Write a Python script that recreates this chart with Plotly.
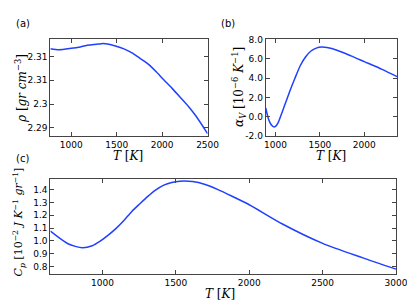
import plotly.graph_objects as go

# Panel (a): density
T_a = [771, 866, 1000, 1100, 1200, 1300, 1350, 1400, 1486, 1580, 1664, 1750, 1840, 1930, 2018, 2110, 2196, 2290, 2372, 2500]
rho = [2.3116, 2.3114, 2.3117, 2.3120, 2.3124, 2.3126, 2.3127, 2.3126, 2.3122, 2.3116, 2.3108, 2.3097, 2.3085, 2.3069, 2.3051, 2.3033, 2.3015, 2.2995, 2.2975, 2.2938]

# Panel (b): thermal expansion coefficient
T_b = [890, 920, 950, 980, 1000, 1030, 1060, 1100, 1160, 1220, 1280, 1340, 1400, 1460, 1520, 1580, 1700, 1850, 2000, 2200, 2370]
alpha = [0.9, -0.2, -0.8, -1.05, -1.0, -0.6, 0.1, 1.1, 2.6, 4.0, 5.3, 6.2, 6.8, 7.1, 7.2, 7.15, 6.85, 6.3, 5.7, 4.9, 4.15]

# Panel (c): heat capacity
T_c = [645, 765, 863, 930, 982, 1037, 1091, 1146, 1200, 1255, 1309, 1364, 1418, 1472, 1527, 1614, 1700, 1787, 1880, 2000, 2226, 2500, 2774, 3000]
cp = [1.076, 0.978, 0.946, 0.962, 0.996, 1.043, 1.096, 1.159, 1.230, 1.290, 1.347, 1.398, 1.435, 1.456, 1.466, 1.463, 1.440, 1.400, 1.350, 1.282, 1.132, 0.981, 0.868, 0.780]

line = dict(color="#2040ff", width=1.5, shape="spline", smoothing=0.7)
fig = go.Figure()
fig.add_trace(go.Scatter(x=T_a, y=rho, mode="lines", line=line, xaxis="x", yaxis="y"))
fig.add_trace(go.Scatter(x=T_b, y=alpha, mode="lines", line=line, xaxis="x2", yaxis="y2"))
fig.add_trace(go.Scatter(x=T_c, y=cp, mode="lines", line=line, xaxis="x3", yaxis="y3"))

tickfont = dict(family="DejaVu Sans", size=9, color="black")
ax_common = dict(showline=True, linecolor="#444", linewidth=1, mirror="ticks",
                 ticks="inside", ticklen=4, tickcolor="#444", showgrid=False,
                 zeroline=False, tickfont=tickfont)

fig.update_layout(
    width=415, height=300,
    margin=dict(l=0, r=0, t=0, b=0),
    paper_bgcolor="white", plot_bgcolor="white",
    showlegend=False,
    xaxis=dict(domain=[0.1029, 0.494], range=[771, 2500], tickvals=[1000, 1500, 2000, 2500],
               ticktext=["1000", "1500", "2000", "2500"], anchor="y", **ax_common),
    yaxis=dict(domain=[0.5757, 0.911], range=[2.2933, 2.3137], anchor="x",
               tickvals=[2.295, 2.300, 2.305, 2.310], ticktext=["2.29", "2.3", "2.31", "2.31"], **ax_common),
    xaxis2=dict(domain=[0.6386, 0.9655], range=[890, 2370], tickvals=[1000, 1500, 2000], anchor="y2", **ax_common),
    yaxis2=dict(domain=[0.5757, 0.909], range=[-2, 8], anchor="x2",
                tickvals=[-2, 0, 2, 4, 6, 8], ticktext=["-2.0", "0.0", "2.0", "4.0", "6.0", "8.0"], **ax_common),
    xaxis3=dict(domain=[0.1029, 0.9627], range=[645, 3000], tickvals=[1000, 1500, 2000, 2500, 3000], anchor="y3", **ax_common),
    yaxis3=dict(domain=[0.1, 0.4277], range=[0.742, 1.483], anchor="x3",
                tickvals=[0.8, 0.9, 1.0, 1.1, 1.2, 1.3, 1.4],
                ticktext=["0.8", "0.9", "1.0", "1.1", "1.2", "1.3", "1.4"], **ax_common),
)

T_title = "<i>T</i> [<i>K</i>]"
titles = [
    (T_title, 123, 148, 0, 12),
    (T_title, 332, 148, 0, 12),
    (T_title, 218, 291, 0, 12),
    ("<i>ρ</i> [<i>gr cm</i><sup>−3</sup>]", 13, 78, -90, 12),
    ("<i>α<sub>V</sub></i> [10<sup>−6</sup> <i>K</i><sup>−1</sup>]", 238, 77, -90, 12),
    ("<i>C<sub>p</sub></i> [10<sup>−2</sup> <i>J K</i><sup>−1</sup> <i>gr</i><sup>−1</sup>]", 10, 216, -90, 11),
]
for txt, x, y, ang, sz in titles:
    fig.add_annotation(text=txt, xref="paper", yref="paper", x=x / 415, y=1 - y / 300,
                       xanchor="center", yanchor="middle", showarrow=False,
                       textangle=ang, font=dict(family="DejaVu Serif", size=sz, color="black"))

labfont = dict(family="DejaVu Sans", size=10, color="black")
for txt, x, y in [("(a)", 5, 11), ("(b)", 217, 11), ("(c)", 5, 151)]:
    fig.add_annotation(text=txt, xref="paper", yref="paper", x=x / 415, y=1 - y / 300,
                       xanchor="left", yanchor="middle", showarrow=False, font=labfont)

fig.write_html("out.html")
